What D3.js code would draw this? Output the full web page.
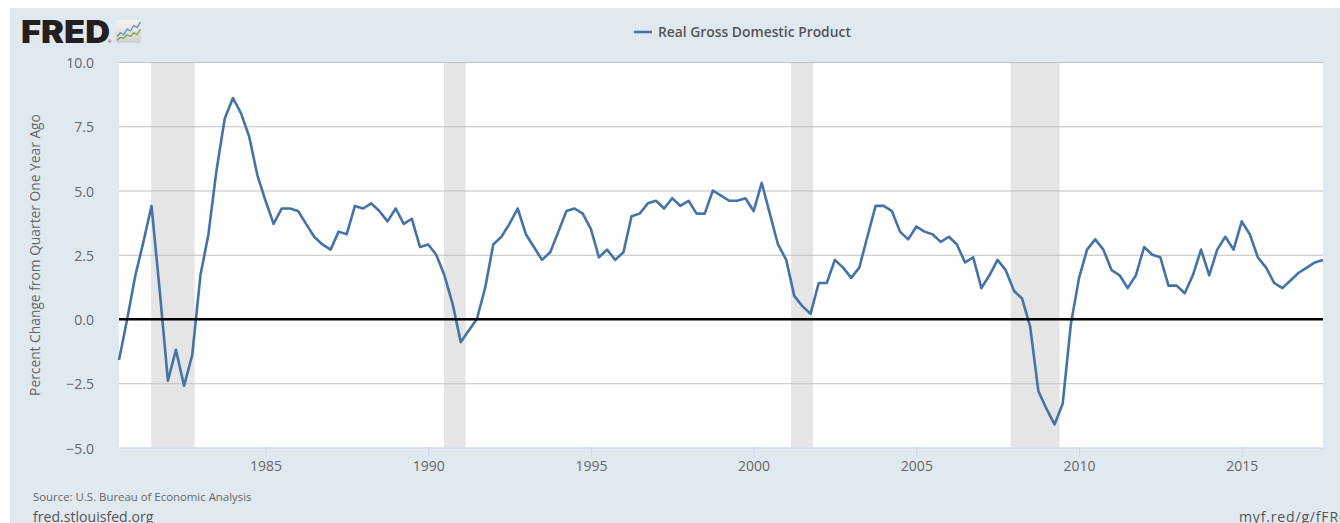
<!DOCTYPE html>
<html>
<head>
<meta charset="utf-8">
<script src="https://d3js.org/d3.v7.min.js"></script>
<style>
html,body{margin:0;padding:0;background:#fff;overflow:hidden}
svg{display:block;font-family:"Open Sans",sans-serif}
</style>
</head>
<body>
<svg id="chart" width="1340" height="523"></svg>
<script>
const startYear = 1980, startQuarter = 3;
const gdpChange = [
  -1.6, 0.0,
  1.7, 3.0, 4.4, 1.1,
  -2.4, -1.2, -2.6, -1.4,
  1.7, 3.3, 5.8, 7.8,
  8.6, 8.0, 7.1, 5.6,
  4.6, 3.7, 4.3, 4.3,
  4.2, 3.7, 3.2, 2.9,
  2.7, 3.4, 3.3, 4.4,
  4.3, 4.5, 4.2, 3.8,
  4.3, 3.7, 3.9, 2.8,
  2.9, 2.5, 1.7, 0.6,
  -0.9, -0.45, 0.0, 1.2,
  2.9, 3.2, 3.7, 4.3,
  3.3, 2.8, 2.3, 2.6,
  3.4, 4.2, 4.3, 4.1,
  3.5, 2.4, 2.7, 2.3,
  2.6, 4.0, 4.1, 4.5,
  4.6, 4.3, 4.7, 4.4,
  4.6, 4.1, 4.1, 5.0,
  4.8, 4.6, 4.6, 4.7,
  4.2, 5.3, 4.1, 2.9,
  2.3, 0.9, 0.5, 0.2,
  1.4, 1.4, 2.3, 2.0,
  1.6, 2.0, 3.2, 4.4,
  4.4, 4.2, 3.4, 3.1,
  3.6, 3.4, 3.3, 3.0,
  3.2, 2.9, 2.2, 2.4,
  1.2, 1.7, 2.3, 1.9,
  1.1, 0.8, -0.3, -2.8,
  -3.5, -4.1, -3.3, -0.2,
  1.6, 2.7, 3.1, 2.7,
  1.9, 1.7, 1.2, 1.7,
  2.8, 2.5, 2.4, 1.3,
  1.3, 1.0, 1.7, 2.7,
  1.7, 2.7, 3.2, 2.7,
  3.8, 3.3, 2.4, 2.0,
  1.4, 1.2, 1.5, 1.8,
  2.0, 2.2, 2.3
];
const recessions = [
  ["1981-07-01", "1982-11-01"],
  ["1990-07-01", "1991-03-01"],
  ["2001-03-01", "2001-11-01"],
  ["2007-12-01", "2009-06-01"]
];
const yTicks = [-5, -2.5, 0, 2.5, 5, 7.5, 10];
const xTickYears = [1985, 1990, 1995, 2000, 2005, 2010, 2015];
const seriesName = "Real Gross Domestic Product";
const yTitle = "Percent Change from Quarter One Year Ago";
const sourceText = "Source: U.S. Bureau of Economic Analysis";
const leftLink = "fred.stlouisfed.org";
const rightLink = "myf.red/g/fFR6";
const logoBlue = [3, 5, 4, 7, 6, 9, 8, 11];
const logoGreen = [1, 2.5, 2, 4, 3, 5, 4, 7];

const dates = gdpChange.map((v, i) => new Date(Date.UTC(startYear, (startQuarter - 1) * 3 + i * 3, 1)));
const x = d3.scaleUtc().domain([dates[0], dates[dates.length - 1]]).range([119, 1323]);
const y = d3.scaleLinear().domain([-5, 10]).range([447.5, 62]);

const svg = d3.select("#chart");
svg.append("rect").attr("x", 10).attr("y", 8).attr("width", 1330).attr("height", 515).attr("fill", "#e1e9f0");
svg.append("rect").attr("x", 119).attr("y", 62).attr("width", 1204).attr("height", 385.5).attr("fill", "#fff");

svg.append("g").selectAll("rect").data(recessions).join("rect")
  .attr("x", d => x(new Date(d[0])) - 0.4)
  .attr("width", d => x(new Date(d[1])) - x(new Date(d[0])))
  .attr("y", 62).attr("height", 385.5).attr("fill", "#e5e5e5");

// y axis + grid
const yAxis = d3.axisLeft(y).tickValues(yTicks).tickFormat(d3.format(".1f")).tickSize(0).tickPadding(25);
const gy = svg.append("g").attr("transform", "translate(119,1.2)").call(yAxis);
gy.select(".domain").remove();
gy.selectAll("text").attr("font-size", 14).attr("fill", "#666").attr("font-family", '"Open Sans",sans-serif');

svg.append("g").selectAll("line").data(yTicks.filter(d => d !== 0 && d !== -5)).join("line")
  .attr("x1", 119).attr("x2", 1323)
  .attr("y1", d => y(d) + 0.5).attr("y2", d => y(d) + 0.5)
  .attr("stroke", "#c0c0c0").attr("stroke-width", 1.2);

// x axis
const xAxis = d3.axisBottom(x)
  .tickValues(xTickYears.map(yr => new Date(Date.UTC(yr, 0, 1))))
  .tickFormat(d3.utcFormat("%Y")).tickSize(10).tickPadding(4).tickSizeOuter(0);
const gx = svg.append("g").attr("transform", "translate(0,447.5)").call(xAxis);
gx.select(".domain").attr("stroke", "#ccd6eb").attr("stroke-width", 1.2);
gx.selectAll("line").attr("stroke", "#ccd6eb");
gx.selectAll("text").attr("font-size", 14).attr("fill", "#666").attr("font-family", '"Open Sans",sans-serif');

// series
const line = d3.line().x((d, i) => x(dates[i])).y(d => y(d));
svg.append("path").datum(gdpChange).attr("d", line)
  .attr("fill", "none").attr("stroke", "#4572a7").attr("stroke-width", 2.6).attr("stroke-linejoin", "round");

// zero line
svg.append("line").attr("x1", 119).attr("x2", 1323).attr("y1", y(0) + 0.2).attr("y2", y(0) + 0.2)
  .attr("stroke", "#000").attr("stroke-width", 2.4);

// y title
svg.append("text").attr("transform", "translate(40,255) rotate(-90)")
  .attr("text-anchor", "middle").attr("font-size", 13.8).attr("fill", "#666").text(yTitle);

// legend
svg.append("line").attr("x1", 634).attr("x2", 652).attr("y1", 32).attr("y2", 32)
  .attr("stroke", "#4572a7").attr("stroke-width", 2.6);
svg.append("text").attr("x", 658).attr("y", 37).attr("font-size", 13.85).attr("font-weight", 600)
  .attr("fill", "#555").text(seriesName);

// footer
svg.append("text").attr("x", 33).attr("y", 500.5).attr("font-size", 11.4).attr("fill", "#666").text(sourceText);
svg.append("text").attr("x", 33).attr("y", 521.5).attr("font-size", 14.1).attr("fill", "#555").text(leftLink);
svg.append("text").attr("x", 1239).attr("y", 521.5).attr("font-size", 14.1).attr("fill", "#555")
  .attr("textLength", 108).attr("lengthAdjust", "spacing").text(rightLink);

// FRED logo
svg.append("text").attr("x", 21).attr("y", 43).attr("font-family", "Inter,Lato,sans-serif").attr("font-size", 31)
  .attr("font-weight", 900).attr("fill", "#231f20").attr("textLength", 89).attr("lengthAdjust", "spacingAndGlyphs").text("FRED");
svg.append("text").attr("x", 108).attr("y", 43).attr("font-size", 4).attr("fill", "#231f20").text("®");
const defs = svg.append("defs");
const grad = defs.append("linearGradient").attr("id", "logoBg").attr("x1", 0).attr("y1", 0).attr("x2", 0).attr("y2", 1);
grad.append("stop").attr("offset", 0).attr("stop-color", "#f4f4f2");
grad.append("stop").attr("offset", 1).attr("stop-color", "#cfcfcc");
svg.append("rect").attr("x", 116).attr("y", 20).attr("width", 25).attr("height", 23).attr("rx", 2).attr("fill", "url(#logoBg)");
const lx = d3.scaleLinear().domain([0, logoBlue.length - 1]).range([117, 140.5]);
const ly = d3.scaleLinear().domain([0, 12]).range([42, 20]);
const logoLine = d3.line().x((d, i) => lx(i)).y(d => ly(d));
svg.append("path").attr("d", logoLine(logoBlue)).attr("fill", "none").attr("stroke", "#5f8ab5").attr("stroke-width", 1.2);
svg.append("path").attr("d", logoLine(logoGreen)).attr("fill", "none").attr("stroke", "#72a24a").attr("stroke-width", 1.2);
</script>
</body>
</html>
